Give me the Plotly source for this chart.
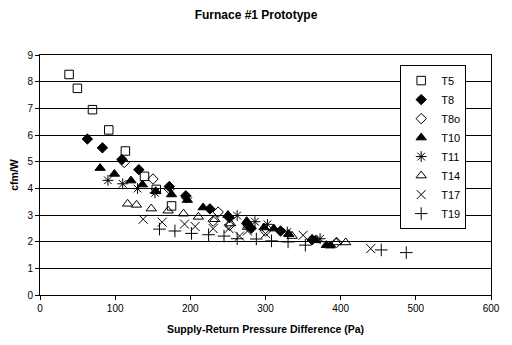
import plotly.graph_objects as go

# Data
t5_x = [38.7, 49.7, 69.8, 91.5, 113.6, 139.0, 154.7, 175.0]
t5_y = [8.27, 7.75, 6.95, 6.19, 5.40, 4.45, 3.96, 3.34]

t8_x = [63.0, 83.0, 109.0, 131.5, 172.0, 194.0, 226.0, 252.0, 276.0, 281.0, 320.0, 362.0]
t8_y = [5.85, 5.52, 5.08, 4.70, 4.07, 3.72, 3.23, 2.90, 2.65, 2.50, 2.40, 2.07]

t8o_x = [112.0, 150.3, 172.0, 195.0, 230.4, 237.0, 252.0, 300.0, 394.5]
t8o_y = [4.97, 4.35, 3.98, 3.65, 2.77, 3.11, 2.61, 2.40, 1.97]

t10_x = [80.0, 99.0, 121.0, 136.3, 154.0, 175.0, 196.0, 217.0, 250.0, 275.0, 298.0, 311.0, 331.0, 362.0, 366.0, 381.0, 386.0]
t10_y = [4.76, 4.54, 4.29, 4.14, 3.89, 3.77, 3.56, 3.28, 3.00, 2.77, 2.53, 2.49, 2.28, 2.09, 2.05, 1.87, 1.85]

t11_x = [90.4, 110.0, 129.7, 153.0, 262.3, 286.0, 302.6, 329.0, 372.6]
t11_y = [4.30, 4.17, 3.99, 3.83, 2.98, 2.75, 2.65, 2.36, 2.11]

t14_x = [116.6, 128.4, 148.0, 170.4, 191.0, 210.7, 232.6, 253.6, 276.0, 335.4, 367.0, 394.0, 406.7]
t14_y = [3.42, 3.38, 3.24, 3.16, 3.05, 2.93, 2.84, 2.68, 2.55, 2.21, 2.07, 1.97, 1.97]

t17_x = [137.2, 162.5, 192.3, 206.4, 230.4, 251.4, 265.5, 276.0, 300.0, 350.0, 440.0]
t17_y = [2.84, 2.73, 2.66, 2.57, 2.49, 2.49, 2.21, 2.40, 2.30, 2.24, 1.74]

t19_x = [159.0, 179.5, 201.5, 224.3, 244.8, 262.3, 287.8, 308.0, 330.0, 353.0, 454.0, 487.3]
t19_y = [2.47, 2.40, 2.31, 2.26, 2.21, 2.11, 2.10, 2.03, 1.99, 1.87, 1.69, 1.59]

series = [
    ("T5", t5_x, t5_y, "square-open", 8.5),
    ("T8", t8_x, t8_y, "diamond", 8),
    ("T8o", t8o_x, t8o_y, "diamond-open", 8),
    ("T10", t10_x, t10_y, "triangle-up", 9),
    ("T11", t11_x, t11_y, "asterisk-open", 9),
    ("T14", t14_x, t14_y, "triangle-up-open", 9),
    ("T17", t17_x, t17_y, "x-thin-open", 9),
    ("T19", t19_x, t19_y, "cross-thin-open", 9),
]

FONT = "Liberation Sans, Arial, sans-serif"

fig = go.Figure()
for name, xs, ys, sym, sz in series:
    fig.add_trace(go.Scatter(
        x=xs, y=ys, mode="markers", name=name,
        marker=dict(symbol=sym, size=sz, color="black",
                    line=dict(color="black", width=1)),
    ))

fig.update_layout(
    width=512, height=345,
    margin=dict(l=40, r=15, t=55, b=49),
    paper_bgcolor="white", plot_bgcolor="white",
    font=dict(family=FONT, size=10, color="black"),
    title=dict(text="<b>Furnace #1 Prototype</b>", x=0.5, xanchor="center",
               y=1 - 15 / 345, yanchor="middle",
               font=dict(family=FONT, size=12, color="black")),
    showlegend=True,
    legend=dict(x=0.945, xanchor="right", y=0.958, yanchor="top",
                bgcolor="white", bordercolor="black", borderwidth=1,
                font=dict(family=FONT, size=11, color="black"),
                itemwidth=30, tracegroupgap=0),
)

fig.update_xaxes(
    range=[0, 600], dtick=100, tick0=0,
    showgrid=False, zeroline=False,
    showline=True, linecolor="black", linewidth=1, mirror=True,
    ticks="outside", ticklen=4, tickcolor="black",
    tickfont=dict(family=FONT, size=10, color="black"),
    title=dict(text="<b>Supply-Return Pressure Difference (Pa)</b>",
               font=dict(family=FONT, size=10.5, color="black"), standoff=12),
)
fig.update_yaxes(
    range=[0, 9], dtick=1, tick0=0,
    showgrid=True, gridcolor="black", gridwidth=1, zeroline=False,
    showline=True, linecolor="black", linewidth=1, mirror=True,
    ticks="outside", ticklen=4, tickcolor="black",
    tickfont=dict(family=FONT, size=10, color="black"),
    title=dict(text="<b>cfm/W</b>",
               font=dict(family=FONT, size=10.5, color="black"), standoff=6),
)

fig.write_html("out.html")
